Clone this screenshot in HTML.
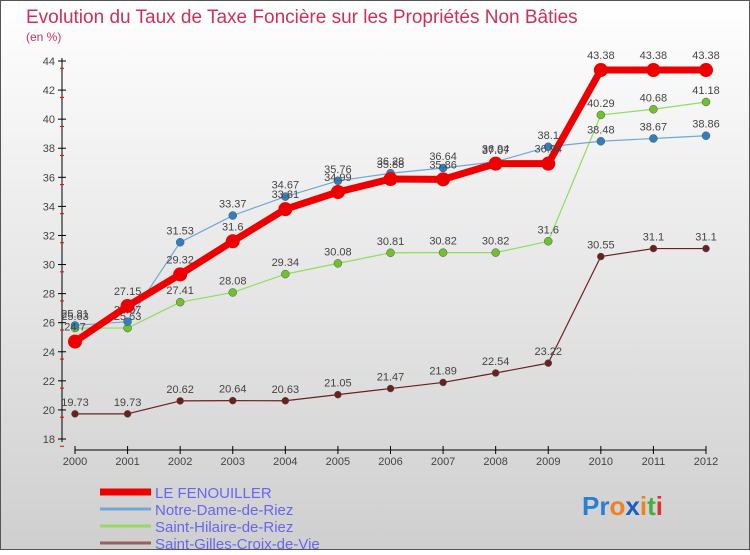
<!DOCTYPE html>
<html><head><meta charset="utf-8"><style>
body{margin:0;width:750px;height:550px;overflow:hidden;font-family:"Liberation Sans",sans-serif}
</style></head><body>
<svg id="c" width="750" height="550" xmlns="http://www.w3.org/2000/svg">
<defs><linearGradient id="bg" x1="0" y1="0" x2="0" y2="1"><stop offset="0" stop-color="#ffffff"/><stop offset="1" stop-color="#cfcfcf"/></linearGradient></defs>
<rect x="0.5" y="0.5" width="749" height="549" fill="url(#bg)" stroke="#555"/>
<text x="26" y="23" font-size="19" fill="#d0305a">Evolution du Taux de Taxe Foncière sur les Propriétés Non Bâties</text>
<text x="26" y="41" font-size="12" fill="#d0305a">(en %)</text>
<g id="axes"></g><g id="series"></g><g id="legend"></g>
<text x="582" y="515" font-size="26" font-weight="bold" fill="#2a7fd0">Pr<tspan fill="#f08020">o</tspan><tspan fill="#1a5fc0">x</tspan><tspan fill="#f08020">i</tspan><tspan fill="#40b040">t</tspan><tspan fill="#e03030">i</tspan></text>
</svg>
<script>
const years=[2000,2001,2002,2003,2004,2005,2006,2007,2008,2009,2010,2011,2012];
const yTicks=[18,20,22,24,26,28,30,32,34,36,38,40,42,44];
const seriesNames=["LE FENOUILLER","Notre-Dame-de-Riez","Saint-Hilaire-de-Riez","Saint-Gilles-Croix-de-Vie"];
const fenouiller=[24.7,27.15,29.32,31.6,33.81,34.99,35.88,35.86,36.94,36.94,43.38,43.38,43.38];
const notreDame=[25.81,26.07,31.53,33.37,34.67,35.76,36.28,36.64,37.07,38.1,38.48,38.67,38.86];
const saintHilaire=[25.63,25.63,27.41,28.08,29.34,30.08,30.81,30.82,30.82,31.6,40.29,40.68,41.18];
const saintGilles=[19.73,19.73,20.62,20.64,20.63,21.05,21.47,21.89,22.54,23.22,30.55,31.1,31.1];
const NS="http://www.w3.org/2000/svg";
const x=i=>75+i*(706-75)/(years.length-1);
const y=v=>439-(v-18)*(439-61)/(44-18);
function mk(p,t,a){const e=document.createElementNS(NS,t);for(const k in a)e.setAttribute(k,a[k]);p.appendChild(e);return e;}
const ax=document.getElementById('axes');
let l=mk(ax,'line',{x1:62,y1:58,x2:62,y2:442,stroke:'#000'});


yTicks.forEach(t=>{const yy=y(t);
mk(ax,'line',{x1:58,y1:yy,x2:66,y2:yy,stroke:'#000'});
mk(ax,'line',{x1:60,y1:yy+7.3,x2:64,y2:yy+7.3,stroke:'#e00'});
const tx=mk(ax,'text',{x:55,y:yy+4,'font-size':11,'text-anchor':'end',fill:'#444'});tx.textContent=t;

});
l=mk(ax,'line',{x1:75,y1:450,x2:706,y2:450,stroke:'#000'});


years.forEach((yr,i)=>{mk(ax,'line',{x1:x(i),y1:446,x2:x(i),y2:454,stroke:'#000'});
const tx=mk(ax,'text',{x:x(i),y:465,'font-size':11,'text-anchor':'middle',fill:'#444'});tx.textContent=yr;

});
const sg=document.getElementById('series');
const defs=[[saintGilles,'#6b2020','#6b2020',1.2,3.5],[saintHilaire,'#90dd60','#70c030',1.2,4],[notreDame,'#70a8d8','#3080c0',1.2,4],[fenouiller,'#ee0000','#ee0000',7,7]];
const ids=['saint-gilles','saint-hilaire','notre-dame','le-fenouiller'];
defs.forEach(([d,c,pc,w,r],k)=>{const g=mk(sg,'g',{});


const p=mk(g,'polyline',{points:d.map((v,i)=>x(i)+','+y(v)).join(' '),fill:'none',stroke:c,'stroke-width':w,'stroke-linejoin':'round'});


d.forEach((v,i)=>{const ci=mk(g,'circle',{cx:x(i),cy:y(v),r:r,fill:pc,stroke:k==3?'none':'#555','stroke-width':0.5});


const t=mk(g,'text',{x:x(i),y:y(v)-(k==3?11:8),'font-size':11,'text-anchor':'middle',fill:'#444'});t.textContent=v;

});});
const lg=document.getElementById('legend');
const lc=['#ee0000','#70a8d8','#90dd60','#9a6060'],lw=[7,3,3,3];
seriesNames.forEach((n,k)=>{const yy=492+k*17;const g=mk(lg,'g',{});


mk(g,'line',{x1:100,y1:yy,x2:151,y2:yy,stroke:lc[k],'stroke-width':lw[k]});
const t=mk(g,'text',{x:155,y:yy+6,'font-size':15,fill:'#6666ee'});t.textContent=n;});
</script>
</body></html>
